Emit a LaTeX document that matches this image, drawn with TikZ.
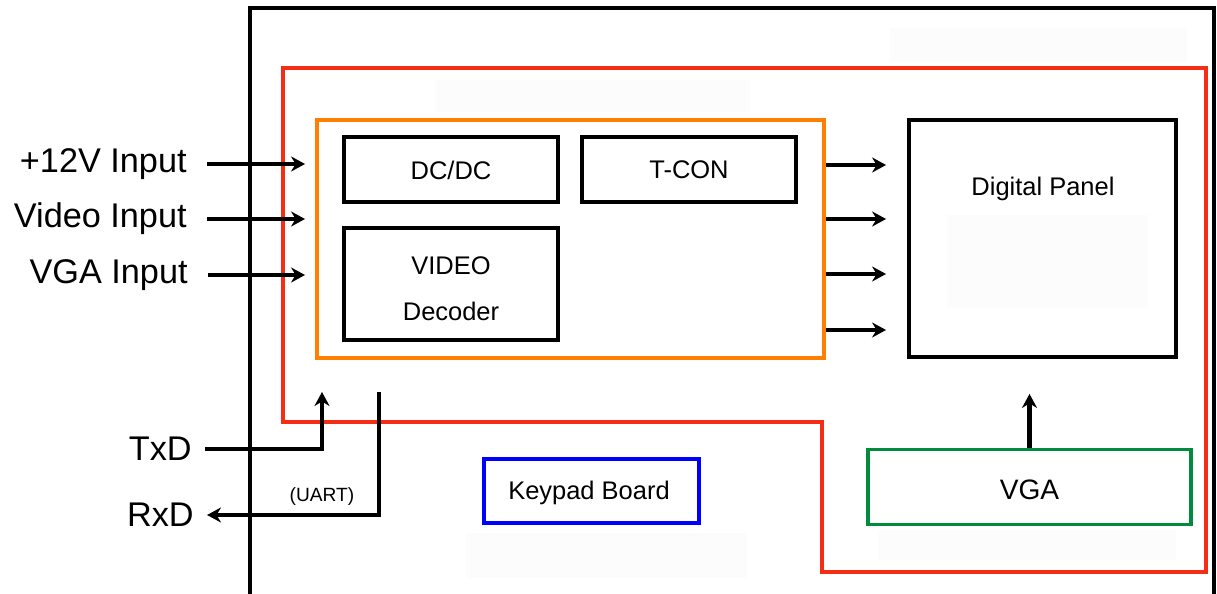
\documentclass[tikz,border=0pt]{standalone}
\usepackage{fontspec}
\setmainfont{Liberation Sans}
\usetikzlibrary{arrows.meta}
\newcommand{\pxu}{0.02cm}
\definecolor{boardred}{RGB}{245,45,20}
\definecolor{coreorange}{RGB}{255,128,0}
\definecolor{vgagreen}{RGB}{0,140,60}
\definecolor{keyblue}{RGB}{0,0,255}
\definecolor{ghost}{RGB}{252,252,252}
\begin{document}
\begin{tikzpicture}[x=\pxu, y=-\pxu,
    blk/.style={draw, line width=2.2pt, inner sep=0pt},
    txt/.style={inner sep=0pt, font=\fontsize{14.5}{17}\selectfont},
    io/.style={inner sep=0pt, anchor=east, font=\fontsize{19.5}{22}\selectfont},
    arr/.style={line width=2.3pt, -{Stealth[length=0.28cm, width=0.3cm]}}]
    \useasboundingbox (0,0) rectangle (1217,594);

    % Faint leftovers
    \fill[ghost] (890,28) rectangle (1187,62);
    \fill[ghost] (435,80) rectangle (750,112);
    \fill[ghost] (947,215) rectangle (1148,308);
    \fill[ghost] (878,530) rectangle (1176,560);
    \fill[ghost] (466,533) rectangle (747,578);

    % Monitor housing
    \draw[line width=2.3pt] (250,594) -- (250,8) -- (1214,8) -- (1214,594);

    % Main board
    \draw[boardred, line width=2.2pt] (283,68) -- (1206,68) -- (1206,572) -- (822,572)
        -- (822,422) -- (283,422) -- cycle;

    % Controller and its blocks
    \node[blk, draw=coreorange, minimum width=507*\pxu, minimum height=238*\pxu] (core) at (570.5,239) {};
    \node[blk, minimum width=214*\pxu, minimum height=65*\pxu] (dcdc) at (451,169.5) {};
    \node[txt] (dcdctxt) at (451,170) {DC/DC};
    \node[blk, minimum width=214*\pxu, minimum height=65*\pxu] (tcon) at (689,169.5) {};
    \node[txt] (tcontxt) at (689,170) {T-CON};
    \node[blk, minimum width=214*\pxu, minimum height=112*\pxu] (video) at (451,284) {};
    \node[txt, align=center, font=\fontsize{14.5}{26}\selectfont] (videotxt) at (451,289) {VIDEO\\Decoder};

    % Panel
    \node[blk, minimum width=267*\pxu, minimum height=237*\pxu] (panel) at (1042.5,238.5) {};
    \node[txt] (paneltxt) at (1043,189) {Digital Panel};
    \foreach \y in {165,219,274,330}
        \draw[arr, shorten >=21*\pxu] (core.east |- 0,\y) -- (panel.west |- 0,\y);

    % VGA board and keypad
    \node[blk, draw=vgagreen, minimum width=323*\pxu, minimum height=75*\pxu] (vga) at (1029.5,487) {};
    \node[txt, font=\fontsize{16}{19}\selectfont] (vgatxt) at (1029.5,490) {VGA};
    \draw[arr, shorten >=35*\pxu] (vga.north) -- (vga.north |- panel.south);
    \node[blk, draw=keyblue, minimum width=215*\pxu, minimum height=64*\pxu] (keypad) at (591.5,491) {};
    \node[txt] (keypadtxt) at (589,493) {Keypad Board};

    % Inputs
    \node[io] (in12) at (187,164) {+12V Input};
    \node[io] (invideo) at (187,219) {Video Input};
    \node[io] (invga) at (188,275) {VGA Input};
    \foreach \n in {in12,invideo,invga}
        \draw[arr, shorten <=20*\pxu, shorten >=10*\pxu] (\n.east) -- (\n.east -| core.west);

    % Serial port
    \node[io] (txd) at (192,449) {TxD};
    \node[io] (rxd) at (194,515) {RxD};
    \coordinate (txin) at (322,392);
    \coordinate (rxout) at (379,392);
    \draw[arr, shorten <=13*\pxu] (txd.east) -| (txin);
    \draw[arr, shorten >=13*\pxu] (rxout) |- (rxd.east);
    \node[font=\fontsize{10.9}{13}\selectfont] (uart) at (322,497) {(UART)};
\end{tikzpicture}
\end{document}
